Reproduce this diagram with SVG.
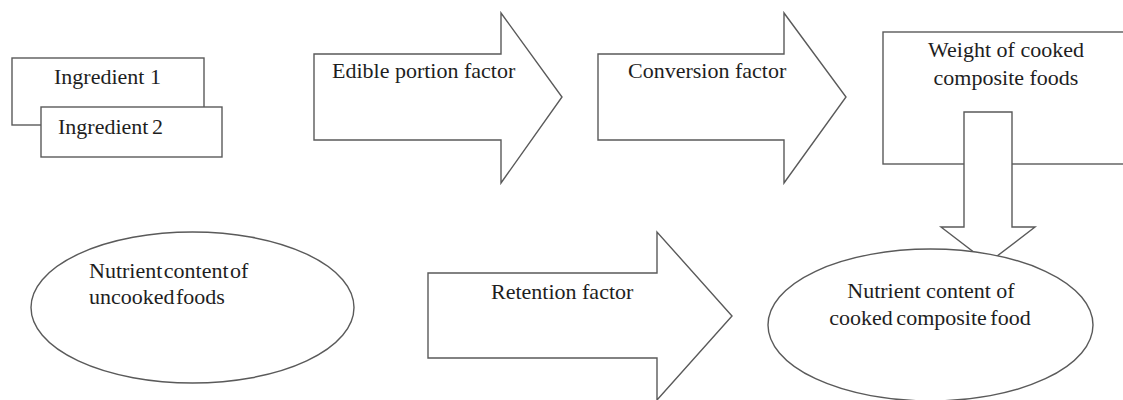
<svg xmlns="http://www.w3.org/2000/svg" width="1123" height="400" viewBox="0 0 1123 400">
<style>
.s{fill:#fff;stroke:#5a5a5a;stroke-width:1.4;stroke-linejoin:miter}
.t{font-family:'Liberation Serif','Times New Roman',Tinos,'DejaVu Serif',serif;font-size:22px;fill:#1e1e1e}
.c{text-anchor:middle}
</style>
<rect width="1123" height="400" fill="#fff"/>
<g id="ingredient1">
<rect class="s" x="12" y="58" width="192" height="67"/>
<text class="t" x="54" y="84" font-size="21">Ingredient 1</text>
</g>
<g id="ingredient2">
<rect class="s" x="41" y="107" width="181" height="50"/>
<text class="t" x="58" y="134" font-size="21" word-spacing="-2">Ingredient 2</text>
</g>
<g id="edible-portion-factor">
<polygon class="s" points="314,54 501,54 501,13 562,97 501,183 501,140 314,140"/>
<text class="t" x="332" y="78">Edible portion factor</text>
</g>
<g id="conversion-factor">
<polygon class="s" points="598,54 784,54 784,13 846,97 784,183 784,140 598,140"/>
<text class="t" x="628" y="78">Conversion factor</text>
</g>
<g id="weight-cooked">
<rect class="s" x="883" y="32" width="250" height="132"/>
<text class="t c" x="1006" y="57">Weight of cooked</text>
<text class="t c" x="1006" y="85">composite foods</text>
</g>
<g id="connectors">
<polygon class="s" points="964,112 1012,112 1012,227 1035,227 988,263 941,227 964,227"/>
</g>
<g id="nutrient-uncooked">
<ellipse class="s" cx="192.5" cy="307.5" rx="161.5" ry="75.5"/>
<text class="t" x="89" y="278" font-size="21.5" word-spacing="-4">Nutrient content of</text>
<text class="t" x="89" y="304" font-size="21.5" word-spacing="-4">uncooked foods</text>
</g>
<g id="retention-factor">
<polygon class="s" points="428,273 657,273 657,232 732,316 657,400 657,358 428,358"/>
<text class="t" x="491" y="299">Retention factor</text>
</g>
<g id="nutrient-cooked">
<ellipse class="s" cx="930.5" cy="325" rx="162.5" ry="76"/>
<text class="t c" x="931" y="298">Nutrient content of</text>
<text class="t c" x="930" y="325" word-spacing="-2">cooked composite food</text>
</g>
</svg>
